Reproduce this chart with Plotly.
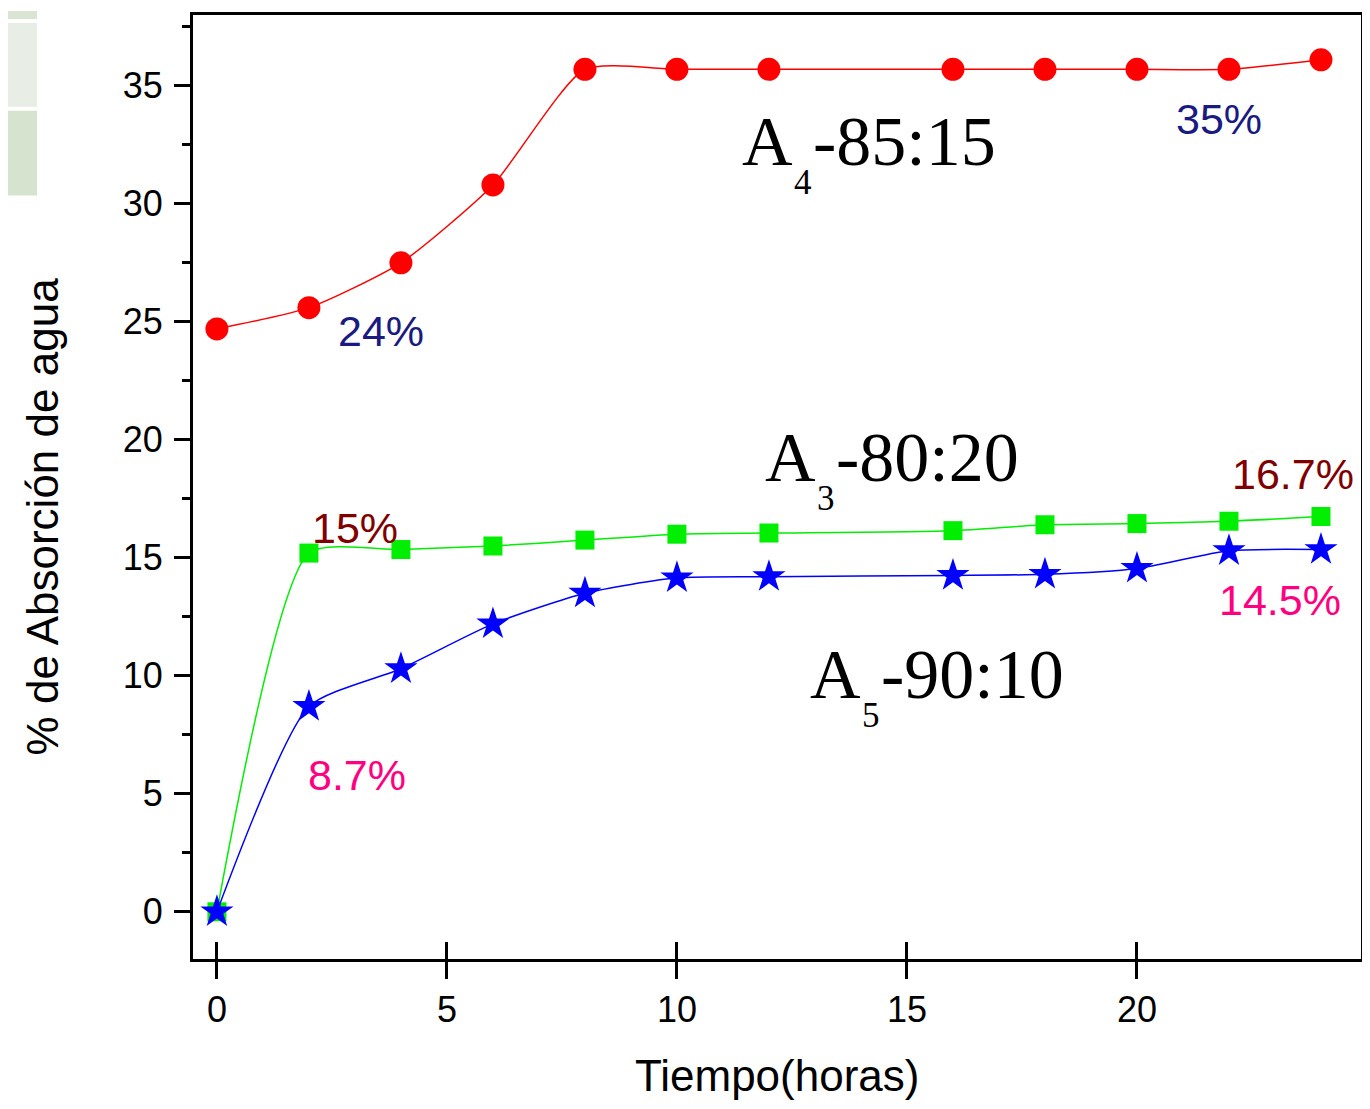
import plotly.graph_objects as go

# ---------------- data ----------------
hours = [0, 2, 4, 6, 8, 10, 12, 16, 18, 20, 22, 24]
a4_85_15 = [24.7, 25.6, 27.5, 30.8, 35.7, 35.7, 35.7, 35.7, 35.7, 35.7, 35.7, 36.1]
a3_80_20 = [0, 15.2, 15.35, 15.5, 15.75, 16.0, 16.05, 16.15, 16.4, 16.45, 16.55, 16.75]
a5_90_10 = [0, 8.7, 10.3, 12.2, 13.5, 14.15, 14.2, 14.25, 14.3, 14.55, 15.3, 15.35]

x_ticks = [0, 5, 10, 15, 20]
y_ticks = [0, 5, 10, 15, 20, 25, 30, 35]

pct_labels = ["24%", "35%", "15%", "16.7%", "8.7%", "14.5%"]
pct_x = [3.57, 21.78, 3.0, 23.39, 3.04, 23.11]
pct_y = [24.6, 33.6, 16.25, 18.55, 5.8, 13.2]
pct_colors = ["#1a1a80", "#1a1a80", "#800000", "#800000", "#ff0080", "#ff0080"]

series_labels = [("A", "4", "-85:15"), ("A", "3", "-80:20"), ("A", "5", "-90:10")]
series_lx = [11.37, 11.87, 12.85]
series_ly = [32.65, 19.26, 10.06]

OFF = 8  # page body margin
W, H = 1370 - OFF, 1109 - OFF
ML, MR, MT, MB = 193 - OFF, 9, 12 - OFF, 150
PW, PH = W - ML - MR, H - MT - MB


def px_x(px):  # window pixel -> paper x
    return (px - OFF - ML) / PW


def px_y(py):  # window pixel -> paper y
    return 1 - (py - OFF - MT) / PH


fig = go.Figure()
fig.add_trace(go.Scatter(x=hours, y=a4_85_15, mode="lines+markers",
                         line=dict(color="#ff0000", width=1.5, shape="spline", smoothing=0.6),
                         marker=dict(symbol="circle", size=23, color="#ff0000"),
                         showlegend=False))
fig.add_trace(go.Scatter(x=hours, y=a3_80_20, mode="lines+markers",
                         line=dict(color="#00ee00", width=1.5, shape="spline", smoothing=0.6),
                         marker=dict(symbol="square", size=19, color="#00ee00"),
                         showlegend=False))
fig.add_trace(go.Scatter(x=hours, y=a5_90_10, mode="lines+markers",
                         line=dict(color="#0000ff", width=1.5, shape="spline", smoothing=0.6),
                         marker=dict(symbol="star", size=25, color="#0000ff", line=dict(width=0)),
                         showlegend=False))
# invisible trace for the inner-tick overlay axis
fig.add_trace(go.Scatter(x=[0], y=[0], xaxis="x2", mode="markers",
                         marker=dict(opacity=0), showlegend=False, hoverinfo="skip"))

tickfont = dict(family="Liberation Sans, Arial", size=36, color="black")
fig.update_layout(
    width=W, height=H,
    margin=dict(l=ML, r=MR, t=MT, b=MB),
    paper_bgcolor="white", plot_bgcolor="white",
    xaxis=dict(range=[-0.52, 24.87], tickvals=x_ticks, ticks="outside", ticklen=17,
               tickwidth=3, tickcolor="black", showline=True, linewidth=3, linecolor="black",
               mirror=True, showgrid=False, zeroline=False, tickfont=tickfont,
               ticklabelstandoff=0),
    xaxis2=dict(range=[-0.52, 24.87], overlaying="x", anchor="y", side="bottom",
                tickvals=x_ticks, ticks="inside", ticklen=17, tickwidth=3, tickcolor="black",
                showticklabels=False, showline=False, showgrid=False, zeroline=False),
    yaxis=dict(range=[-2, 38], tickvals=y_ticks, ticks="outside", ticklen=16,
               tickwidth=3, tickcolor="black", showline=True, linewidth=3, linecolor="black",
               mirror=True, showgrid=False, zeroline=False, tickfont=tickfont,
               minor=dict(dtick=2.5, tick0=0, ticks="outside", ticklen=8, tickwidth=3,
                          tickcolor="black", showgrid=False),
               ticklabelstandoff=4),
)

annotations = []
# axis titles
annotations.append(dict(text="Tiempo(horas)", xref="paper", yref="paper",
                        x=px_x(777), y=px_y(1076), showarrow=False,
                        xanchor="center", yanchor="middle",
                        font=dict(family="Liberation Sans, Arial", size=44, color="black")))
annotations.append(dict(text="% de Absorción de agua", xref="paper", yref="paper",
                        x=px_x(42), y=px_y(515), showarrow=False,
                        textangle=-90, xanchor="center", yanchor="middle",
                        font=dict(family="Liberation Sans, Arial", size=44, color="black")))
# percentage labels
for t, x, y, c in zip(pct_labels, pct_x, pct_y, pct_colors):
    annotations.append(dict(text=t, x=x, y=y, xref="x", yref="y", showarrow=False,
                            xanchor="center", yanchor="middle",
                            font=dict(family="Liberation Sans, Arial", size=43, color=c)))
# series labels (serif, subscript)
for (a, sub, rest), x, y in zip(series_labels, series_lx, series_ly):
    annotations.append(dict(text=a, x=x, y=y, xref="x", yref="y", showarrow=False,
                            xanchor="left", yanchor="middle",
                            font=dict(family="Liberation Serif, Times New Roman", size=70, color="black")))
    annotations.append(dict(text=sub, x=x, y=y, xref="x", yref="y", showarrow=False,
                            xanchor="left", yanchor="middle", xshift=52, yshift=-41,
                            font=dict(family="Liberation Serif, Times New Roman", size=35, color="black")))
    annotations.append(dict(text=rest, x=x, y=y, xref="x", yref="y", showarrow=False,
                            xanchor="left", yanchor="middle", xshift=71,
                            font=dict(family="Liberation Serif, Times New Roman", size=70, color="black")))
fig.update_layout(annotations=annotations)

# decorative strip at top-left (background fragment)
strip_colors = ["#d9e4d2", "#e8eee6", "#d6e3cf"]
strip_top = [0, 20, 108]
strip_bot = [16, 104, 193]
for c, t, b in zip(strip_colors, strip_top, strip_bot):
    fig.add_shape(type="rect", xref="paper", yref="paper",
                  x0=px_x(OFF), x1=px_x(37),
                  y0=px_y(b), y1=px_y(max(t, OFF)),
                  fillcolor=c, line=dict(width=0), layer="below")

fig.write_html("out.html")
